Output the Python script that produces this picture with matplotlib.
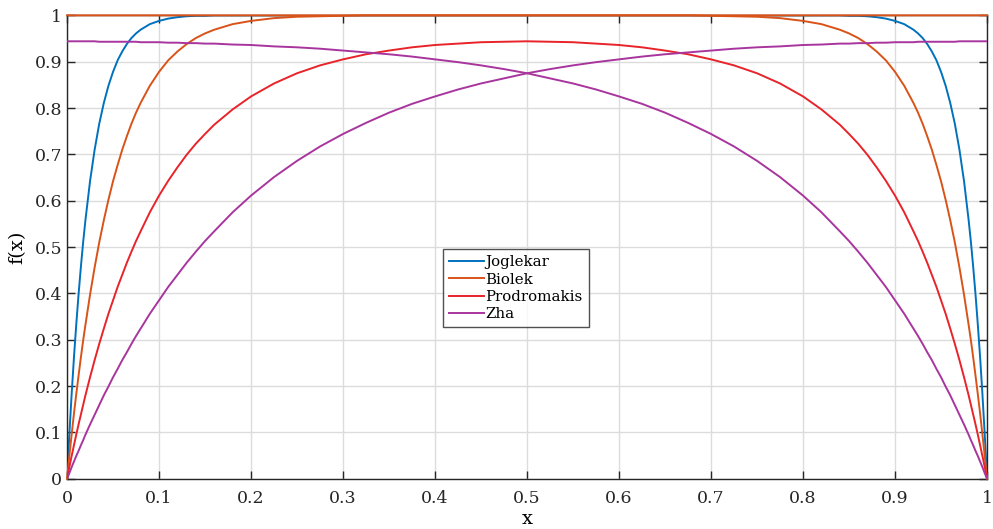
import matplotlib
matplotlib.use('Agg')
import matplotlib.pyplot as plt

# x positions the values were read at (denser where the curves are steep)
x = [0, 0.0025, 0.005, 0.0075, 0.01, 0.0125, 0.015, 0.0175, 0.02,
     0.025, 0.03, 0.035, 0.04, 0.045, 0.05, 0.055, 0.06, 0.065, 0.07, 0.075, 0.08,
     0.09, 0.1, 0.11, 0.12, 0.13, 0.14, 0.15, 0.16, 0.18, 0.2,
     0.225, 0.25, 0.275, 0.3, 0.325, 0.35, 0.375, 0.4, 0.425, 0.45, 0.475, 0.5,
     0.525, 0.55, 0.575, 0.6, 0.625, 0.65, 0.675, 0.7, 0.725, 0.75, 0.775, 0.8,
     0.82, 0.84, 0.85, 0.86, 0.87, 0.88, 0.89, 0.9,
     0.91, 0.92, 0.925, 0.93, 0.935, 0.94, 0.945, 0.95, 0.955, 0.96, 0.965, 0.97, 0.975, 0.98,
     0.9825, 0.985, 0.9875, 0.99, 0.9925, 0.995, 0.9975, 1.0]

joglekar = [0, 0.095, 0.182, 0.261, 0.332, 0.397, 0.456, 0.510, 0.558,
            0.642, 0.710, 0.766, 0.811, 0.848, 0.878, 0.903, 0.922, 0.938, 0.951, 0.961, 0.969,
            0.981, 0.988, 0.993, 0.996, 0.998, 0.999, 0.999, 1.0, 1.0, 1.0,
            1.0, 1.0, 1.0, 1.0, 1.0, 1.0, 1.0, 1.0, 1.0, 1.0, 1.0, 1.0,
            1.0, 1.0, 1.0, 1.0, 1.0, 1.0, 1.0, 1.0, 1.0, 1.0, 1.0, 1.0,
            1.0, 1.0, 0.999, 0.999, 0.998, 0.996, 0.993, 0.988,
            0.981, 0.969, 0.961, 0.951, 0.938, 0.922, 0.903, 0.878, 0.848, 0.811, 0.766, 0.710, 0.642, 0.558,
            0.510, 0.456, 0.397, 0.332, 0.261, 0.182, 0.095, 0]

# Biolek: one branch per current direction
biolek_up = [0, 0.049, 0.095, 0.140, 0.182, 0.222, 0.261, 0.298, 0.332,
             0.397, 0.456, 0.510, 0.558, 0.602, 0.642, 0.677, 0.710, 0.739, 0.766, 0.790, 0.811,
             0.848, 0.878, 0.903, 0.922, 0.938, 0.951, 0.961, 0.969, 0.981, 0.988,
             0.994, 0.997, 0.998, 0.999, 1.0, 1.0, 1.0, 1.0, 1.0, 1.0, 1.0, 1.0,
             1.0, 1.0, 1.0, 1.0, 1.0, 1.0, 1.0, 1.0, 1.0, 1.0, 1.0, 1.0,
             1.0, 1.0, 1.0, 1.0, 1.0, 1.0, 1.0, 1.0,
             1.0, 1.0, 1.0, 1.0, 1.0, 1.0, 1.0, 1.0, 1.0, 1.0, 1.0, 1.0, 1.0, 1.0,
             1.0, 1.0, 1.0, 1.0, 1.0, 1.0, 1.0, 1.0]
biolek_down = [1.0, 1.0, 1.0, 1.0, 1.0, 1.0, 1.0, 1.0, 1.0,
               1.0, 1.0, 1.0, 1.0, 1.0, 1.0, 1.0, 1.0, 1.0, 1.0, 1.0, 1.0,
               1.0, 1.0, 1.0, 1.0, 1.0, 1.0, 1.0, 1.0, 1.0, 1.0,
               1.0, 1.0, 1.0, 1.0, 1.0, 1.0, 1.0, 1.0, 1.0, 1.0, 1.0, 1.0,
               1.0, 1.0, 1.0, 1.0, 1.0, 1.0, 1.0, 0.999, 0.998, 0.997, 0.994, 0.988,
               0.981, 0.969, 0.961, 0.951, 0.938, 0.922, 0.903, 0.878,
               0.848, 0.811, 0.790, 0.766, 0.739, 0.710, 0.677, 0.642, 0.602, 0.558, 0.510, 0.456, 0.397, 0.332,
               0.298, 0.261, 0.222, 0.182, 0.140, 0.095, 0.049, 0]

prodromakis = [0, 0.025, 0.049, 0.072, 0.095, 0.117, 0.138, 0.159, 0.180,
               0.219, 0.256, 0.291, 0.324, 0.356, 0.385, 0.414, 0.440, 0.466, 0.490, 0.513, 0.534,
               0.575, 0.611, 0.643, 0.672, 0.699, 0.723, 0.744, 0.764, 0.797, 0.825,
               0.853, 0.875, 0.892, 0.905, 0.916, 0.924, 0.931, 0.936, 0.939, 0.942, 0.943, 0.944,
               0.943, 0.942, 0.939, 0.936, 0.931, 0.924, 0.916, 0.905, 0.892, 0.875, 0.853, 0.825,
               0.797, 0.764, 0.744, 0.723, 0.699, 0.672, 0.643, 0.611,
               0.575, 0.534, 0.513, 0.490, 0.466, 0.440, 0.414, 0.385, 0.356, 0.324, 0.291, 0.256, 0.219, 0.180,
               0.159, 0.138, 0.117, 0.095, 0.072, 0.049, 0.025, 0]

# Zha: again two branches
zha_down = [0.944, 0.944, 0.944, 0.944, 0.944, 0.944, 0.944, 0.944, 0.944,
            0.944, 0.944, 0.943, 0.943, 0.943, 0.943, 0.943, 0.943, 0.943, 0.943, 0.943, 0.942,
            0.942, 0.942, 0.941, 0.941, 0.940, 0.940, 0.939, 0.939, 0.937, 0.936,
            0.933, 0.931, 0.928, 0.924, 0.920, 0.916, 0.911, 0.905, 0.899, 0.892, 0.884, 0.875,
            0.864, 0.853, 0.840, 0.825, 0.809, 0.790, 0.768, 0.744, 0.717, 0.686, 0.651, 0.611,
            0.575, 0.534, 0.513, 0.490, 0.466, 0.440, 0.414, 0.385,
            0.356, 0.324, 0.308, 0.291, 0.273, 0.256, 0.237, 0.219, 0.199, 0.180, 0.159, 0.138, 0.117, 0.095,
            0.083, 0.072, 0.060, 0.049, 0.037, 0.025, 0.012, 0]
zha_up = [0, 0.012, 0.025, 0.037, 0.049, 0.060, 0.072, 0.083, 0.095,
          0.117, 0.138, 0.159, 0.180, 0.199, 0.219, 0.237, 0.256, 0.273, 0.291, 0.308, 0.324,
          0.356, 0.385, 0.414, 0.440, 0.466, 0.490, 0.513, 0.534, 0.575, 0.611,
          0.651, 0.686, 0.717, 0.744, 0.768, 0.790, 0.809, 0.825, 0.840, 0.853, 0.864, 0.875,
          0.884, 0.892, 0.899, 0.905, 0.911, 0.916, 0.920, 0.924, 0.928, 0.931, 0.933, 0.936,
          0.937, 0.939, 0.939, 0.940, 0.940, 0.941, 0.941, 0.942,
          0.942, 0.942, 0.943, 0.943, 0.943, 0.943, 0.943, 0.943, 0.943, 0.943, 0.943, 0.944, 0.944, 0.944,
          0.944, 0.944, 0.944, 0.944, 0.944, 0.944, 0.944, 0.944]

xticks = [0, 0.1, 0.2, 0.3, 0.4, 0.5, 0.6, 0.7, 0.8, 0.9, 1]
xticklabels = ['0', '0.1', '0.2', '0.3', '0.4', '0.5', '0.6', '0.7', '0.8', '0.9', '1']
yticks = [0, 0.1, 0.2, 0.3, 0.4, 0.5, 0.6, 0.7, 0.8, 0.9, 1]
yticklabels = ['0', '0.1', '0.2', '0.3', '0.4', '0.5', '0.6', '0.7', '0.8', '0.9', '1']

c_jog = '#0072BD'
c_bio = '#D95319'
c_pro = '#E8232A'
c_zha = '#A8359E'

plt.rcParams['font.family'] = ['DejaVu Serif']

fig = plt.figure(figsize=(9.93, 5.29), dpi=100)
ax = fig.add_axes([0.0675, 0.095, 0.9265, 0.876])

lw = 1.4
ax.plot(x, joglekar, color=c_jog, lw=lw, label='Joglekar')
# biolek sits on y=1 along the top edge, let it cover the frame like in matlab
ax.plot(x, biolek_up, color=c_bio, lw=lw, label='Biolek', clip_on=False, zorder=3)
ax.plot(x, biolek_down, color=c_bio, lw=lw, clip_on=False, zorder=3)
ax.plot(x, prodromakis, color=c_pro, lw=lw, label='Prodromakis', zorder=3)
ax.plot(x, zha_down, color=c_zha, lw=lw, label='Zha', zorder=3)
ax.plot(x, zha_up, color=c_zha, lw=lw, zorder=3)

ax.set_xlim(0, 1)
ax.set_ylim(0, 1)
ax.set_xticks(xticks)
ax.set_xticklabels(xticklabels)
ax.set_yticks(yticks)
ax.set_yticklabels(yticklabels)
ax.tick_params(direction='in', length=6, width=1, labelsize=12.5,
               top=True, right=True, colors='#262626')
ax.tick_params(axis='x', pad=8)
ax.grid(True, color='#dcdcdc', lw=1)
ax.set_axisbelow(True)
for s in ax.spines.values():
    s.set_color('#262626')
    s.set_linewidth(1)

ax.set_xlabel('x', fontsize=14, labelpad=2)
ax.set_ylabel('f(x)', fontsize=14, labelpad=6)

leg = ax.legend(loc='center', bbox_to_anchor=(0.488, 0.411), fontsize=10.8,
                frameon=True, fancybox=False, edgecolor='#262626',
                handlelength=2.3, handletextpad=0.1, labelspacing=0.22,
                borderpad=0.4, borderaxespad=0)
leg.get_frame().set_linewidth(1)
leg.set_zorder(5)

fig.savefig('out.png', dpi=100)
